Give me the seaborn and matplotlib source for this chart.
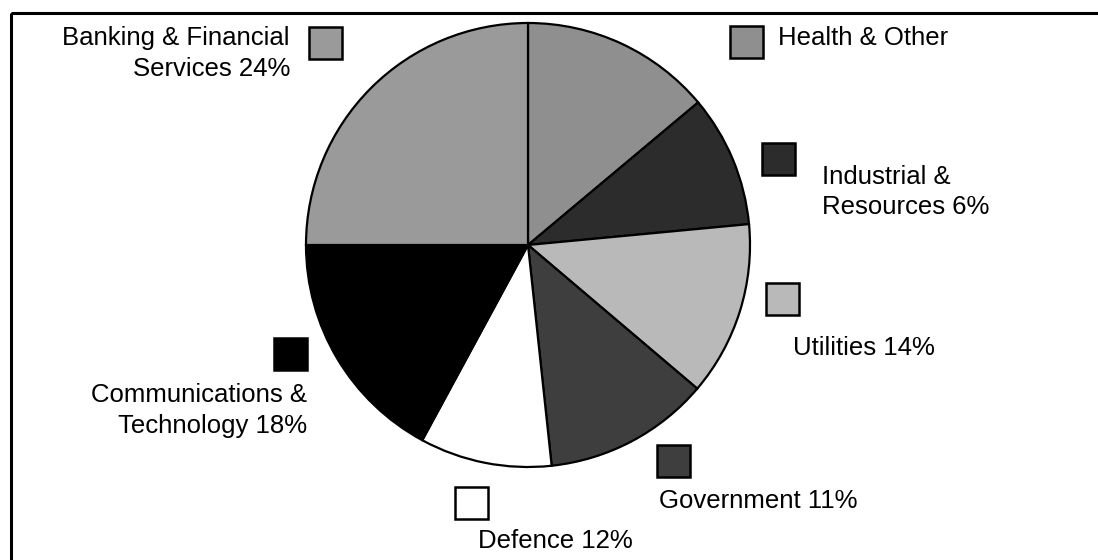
import matplotlib
matplotlib.use("Agg")
import matplotlib.pyplot as plt
import seaborn as sns
from matplotlib.patches import Rectangle

# sector shares (clockwise from 12 o'clock)
sectors = ["Health & Other", "Industrial & Resources", "Utilities", "Government",
           "Defence", "Communications & Technology", "Banking & Financial Services"]
shares = [13.9, 9.6, 12.7, 12.1, 9.6, 17.1, 25.0]
label_text = ["Health & Other",
              "Industrial &\nResources 6%",
              "Utilities 14%",
              "Government 11%",
              "Defence 12%",
              "Communications &\nTechnology 18%",
              "Banking & Financial\nServices 24%"]
shades = ["#8f8f8f", "#2c2c2c", "#b9b9b9", "#3e3e3e", "#ffffff", "#000000", "#9a9a9a"]

# layout (pixel coords, y downwards)
box_pos = [(730, 26), (762, 143), (766, 283), (657, 445), (455, 487), (274, 338), (309, 27)]
text_pos = [(778, 45, "left"), (822, 184, "left"), (793, 355, "left"), (659, 508, "left"),
            (478, 548, "left"), (307, 402, "right"), (290, 45, "right")]
line_step = 30.5

sns.set_theme(style="white")
plt.rcParams["font.family"] = ["Liberation Sans", "DejaVu Sans"]

fig = plt.figure(figsize=(10.98, 5.6), dpi=100)
ax = fig.add_axes([0, 0, 1, 1])

# y axis is flipped below, so counterclock in data = clockwise on screen
ax.pie(shares, colors=shades, startangle=-90, counterclock=True,
       center=(528, 245), radius=222, frame=True,
       wedgeprops=dict(edgecolor="black", linewidth=1.6))
ax.set_xlim(0, 1098)
ax.set_ylim(560, 0)
ax.axis("off")

# outer frame (only top and left edges are inside the image)
ax.add_patch(Rectangle((11, 13), 1200, 600, fill=False, edgecolor="black",
                       linewidth=2.2, clip_on=False))

for (bx, by), col in zip(box_pos, shades):
    ax.add_patch(Rectangle((bx, by), 33, 32, facecolor=col, edgecolor="black",
                           linewidth=1.8))

for txt, (tx, ty, ha) in zip(label_text, text_pos):
    for i, line in enumerate(txt.split("\n")):
        ax.text(tx, ty + i * line_step, line, ha=ha, va="baseline",
                fontsize=18.5, color="black")

fig.savefig("out.png", dpi=100, facecolor="white")
